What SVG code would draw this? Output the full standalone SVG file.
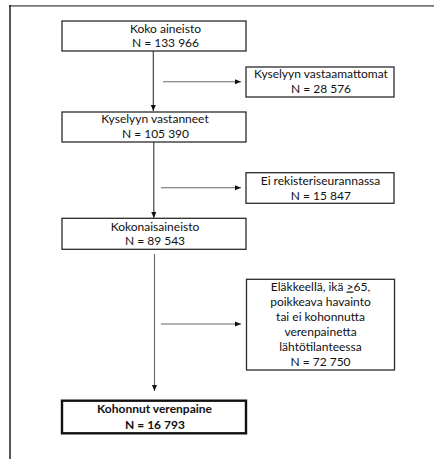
<svg xmlns="http://www.w3.org/2000/svg" width="434" height="459" viewBox="0 0 434 459">
<style>
  .box { fill: #fff; stroke: #2a2a2a; stroke-width: 1.3; }
  .final { fill: #fff; stroke: #111; stroke-width: 2.4; }
  .t { font-family: Lato, "Open Sans", sans-serif; font-size: 12px; fill: #111; text-anchor: middle; }
  .b { font-weight: bold; }
  .line { stroke: #333; stroke-width: 1.1; fill: none; }
  .lg { stroke: #666; stroke-width: 1.1; fill: none; }
</style>
<defs>
  <marker id="ah" viewBox="0 0 6 6" refX="6" refY="3" markerWidth="6" markerHeight="6" markerUnits="userSpaceOnUse" orient="auto">
    <path d="M0,0.5 L6,3 L0,5.5 z" fill="#111"/>
  </marker>
</defs>
<rect width="434" height="459" fill="#fff"/>
<g id="frame">
  <line x1="9" y1="5.8" x2="434" y2="5.8" stroke="#777" stroke-width="1.8"/>
  <line x1="10" y1="5" x2="10" y2="459" stroke="#111" stroke-width="1.4"/>
</g>
<g id="connectors">
  <line class="line" x1="153.3" y1="51" x2="153.3" y2="111" marker-end="url(#ah)"/>
  <line class="lg" x1="163" y1="81.7" x2="241" y2="81.7" marker-end="url(#ah)"/>
  <line class="line" x1="153.8" y1="142" x2="153.8" y2="218" marker-end="url(#ah)"/>
  <line class="lg" x1="161" y1="187.7" x2="241" y2="187.7" marker-end="url(#ah)"/>
  <line class="lg" x1="154.5" y1="254" x2="154.5" y2="391" marker-end="url(#ah)"/>
  <line class="lg" x1="161" y1="324" x2="241" y2="324" marker-end="url(#ah)"/>
</g>
<g id="n1">
  <rect class="box" x="62" y="21" width="184" height="30"/>
  <text class="t" x="165.5" y="32.5">Koko aineisto</text>
  <text class="t" x="165.5" y="47">N = 133 966</text>
</g>
<g id="n2">
  <rect class="box" x="246" y="67" width="148" height="30"/>
  <text class="t" x="321" y="77.5">Kyselyyn vastaamattomat</text>
  <text class="t" x="321" y="92.5">N = 28 576</text>
</g>
<g id="n3">
  <rect class="box" x="62" y="112" width="184" height="30"/>
  <text class="t" x="155" y="123">Kyselyyn vastanneet</text>
  <text class="t" x="155.5" y="138">N = 105 390</text>
</g>
<g id="n4">
  <rect class="box" x="246" y="172.7" width="148" height="30.6"/>
  <text class="t" x="320.5" y="185">Ei rekisteriseurannassa</text>
  <text class="t" x="320.8" y="199.5">N = 15 847</text>
</g>
<g id="n5">
  <rect class="box" x="62" y="218.3" width="184" height="31"/>
  <text class="t" x="155" y="230.5">Kokonaisaineisto</text>
  <text class="t" x="155" y="245">N = 89 543</text>
</g>
<g id="n6">
  <rect class="box" x="246.5" y="279.3" width="148" height="90.7"/>
  <text class="t" x="320.5" y="290.5">Eläkkeellä, ikä <tspan text-decoration="underline">&gt;</tspan>65,</text>
  <text class="t" x="320.5" y="305.5">poikkeava havainto</text>
  <text class="t" x="320.5" y="320.5">tai ei kohonnutta</text>
  <text class="t" x="320.5" y="335.5">verenpainetta</text>
  <text class="t" x="320.5" y="350.5">lähtötilanteessa</text>
  <text class="t" x="320.5" y="365.5">N = 72 750</text>
</g>
<g id="n7">
  <rect class="final" x="62" y="400.7" width="184" height="32.6"/>
  <text class="t b" x="154.5" y="413">Kohonnut verenpaine</text>
  <text class="t b" x="155" y="428.5">N = 16 793</text>
</g>
</svg>
